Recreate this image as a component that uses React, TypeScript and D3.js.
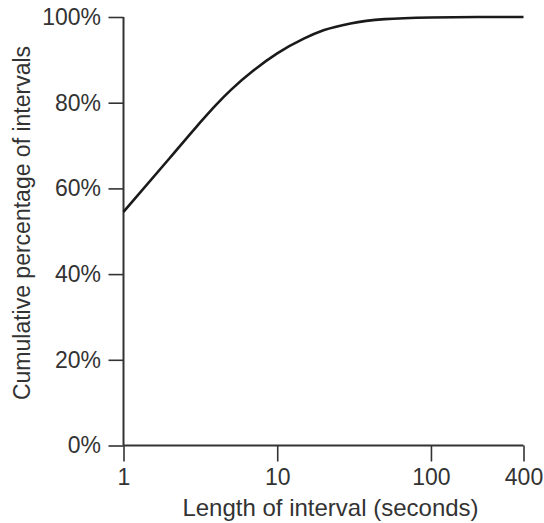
import { useRef, useEffect } from "react"
import * as d3 from "d3"

// interval length (seconds) and the cumulative share of intervals
const seconds = [1, 2, 3, 4, 5, 7, 10, 15, 20, 30, 50, 100, 200, 400]
const cumulative = [0.545, 0.671, 0.745, 0.795, 0.83, 0.875, 0.915, 0.95, 0.969, 0.985, 0.995, 0.999, 1.0, 1.0]
const xTicks = [1, 10, 100, 400]
const yTicks = [0, 0.2, 0.4, 0.6, 0.8, 1.0]

export default function App() {
    const svgRef = useRef<SVGSVGElement>(null)
    const width = 544
    const height = 523

    useEffect(() => {
        const svg = d3.select(svgRef.current)
        svg.selectAll("*").remove()

        const margin = { top: 17, left: 123.5, bottom: 77.5, right: 20.5 }
        const innerWidth = width - margin.left - margin.right
        const innerHeight = height - margin.top - margin.bottom
        const font = "'Liberation Sans', Arial, sans-serif"
        const ink = "#333"

        const xScale = d3.scaleLog().domain([1, 400]).range([0, innerWidth])
        const yScale = d3.scaleLinear().domain([0, 1]).range([innerHeight, 0])

        const g = svg.append("g").attr("transform", `translate(${margin.left}, ${margin.top})`)

        const xAxis = d3.axisBottom(xScale)
            .tickValues(xTicks)
            .tickFormat(d => String(d))
            .tickSize(16)
            .tickPadding(7)
        const yAxis = d3.axisLeft(yScale)
            .tickValues(yTicks)
            .tickFormat(d3.format(".0%"))
            .tickSize(15)
            .tickPadding(7.5)

        const gx = g.append("g").attr("transform", `translate(0, ${innerHeight})`).call(xAxis)
        const gy = g.append("g").call(yAxis)

        for (const ax of [gx, gy]) {
            ax.select(".domain").remove()
            ax.selectAll(".tick line").attr("stroke", ink).attr("stroke-width", 1.6)
            ax.selectAll(".tick text")
                .attr("fill", ink)
                .style("font-family", font)
                .style("font-size", "23px")
        }

        // axis lines drawn plain, no end ticks
        g.append("line").attr("x1", 0).attr("x2", innerWidth)
            .attr("y1", innerHeight).attr("y2", innerHeight)
            .attr("stroke", ink).attr("stroke-width", 2)
        g.append("line").attr("x1", 0).attr("x2", 0)
            .attr("y1", 0).attr("y2", innerHeight)
            .attr("stroke", ink).attr("stroke-width", 2)

        const line = d3.line<number>()
            .x((d, i) => xScale(seconds[i]))
            .y(d => yScale(d))
            .curve(d3.curveMonotoneX)

        g.append("path")
            .datum(cumulative)
            .attr("d", line)
            .attr("fill", "none")
            .attr("stroke", "#1a1a1a")
            .attr("stroke-width", 2.6)

        svg.append("text")
            .text("Length of interval (seconds)")
            .attr("x", 330.5)
            .attr("y", 516)
            .attr("text-anchor", "middle")
            .attr("fill", ink)
            .style("font-family", font)
            .style("font-size", "24px")

        svg.append("text")
            .text("Cumulative percentage of intervals")
            .attr("transform", `translate(29.5, 223) rotate(-90)`)
            .attr("text-anchor", "middle")
            .attr("fill", ink)
            .style("font-family", font)
            .style("font-size", "23px")
    }, [])

    return (
        <svg ref={svgRef} width={width} height={height}
            style={{ position: "absolute", left: 0, top: 0, background: "#fff" }}></svg>
    )
}
